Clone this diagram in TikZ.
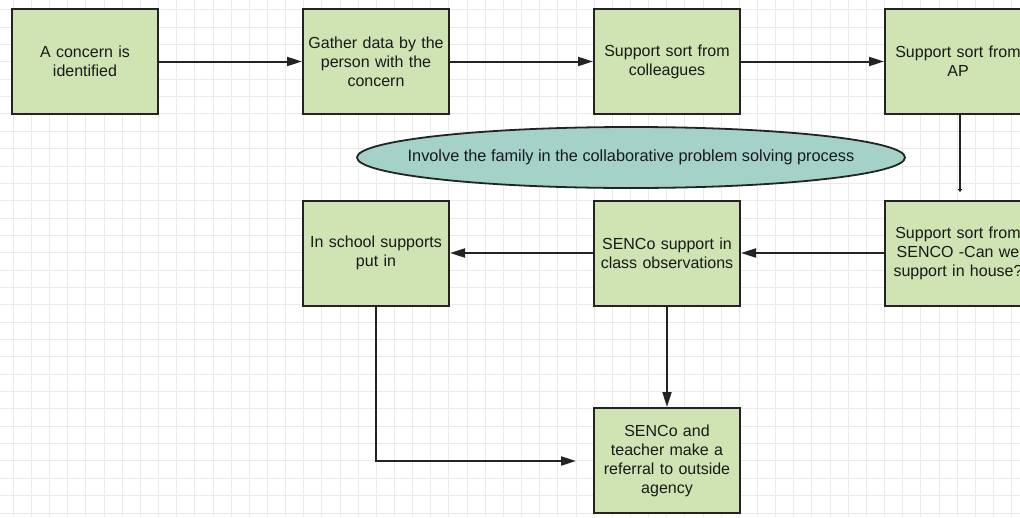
\documentclass[tikz,border=0pt]{standalone}
\usepackage{fontspec}
\setmainfont{Liberation Sans}
\usetikzlibrary{arrows.meta,shapes.geometric}
\definecolor{boxgreen}{RGB}{207,228,178}
\definecolor{ellteal}{RGB}{164,210,200}
\definecolor{edge}{RGB}{35,35,35}
\definecolor{gridc}{RGB}{234,234,234}
\definecolor{txt}{RGB}{25,25,25}
\tikzset{
  stepbox/.style={draw=edge, line width=2pt, fill=boxgreen, minimum width=146pt, minimum height=105pt, inner sep=0pt, text width=140pt, align=center, text=txt, font=\fontsize{16}{19}\selectfont},
  famell/.style={ellipse, draw=edge, line width=1.8pt, fill=ellteal, minimum width=548pt, minimum height=61pt, inner sep=0pt},
  famtext/.style={inner sep=0pt, text=txt, font=\fontsize{16.3}{19}\selectfont},
  conn/.style={draw=edge, line width=2pt, -{Triangle[length=15pt,width=9pt]}},
  smallconn/.style={draw=edge, line width=2.6pt, -{Triangle[length=3pt,width=4.5pt]}}
}
\begin{document}
\begin{tikzpicture}[x=1pt,y=-1pt]
\useasboundingbox (0,0) rectangle (1020,517);
\clip (0,0) rectangle (1020,517);
\fill[white] (0,0) rectangle (1020,517);
% grid
\foreach \i in {0,...,56} {
  \draw[gridc, line width=0.9pt] ({13.3+18.15*\i},0) -- ({13.3+18.15*\i},517);
}
\foreach \j in {0,...,29} {
  \draw[gridc, line width=0.9pt] (0,{9.8+17.35*\j}) -- (1020,{9.8+17.35*\j});
}
% nodes
\node[stepbox] (b1) at (85,61.5) {A concern is\\identified};
\node[stepbox] (b2) at (376,61.5) {Gather data by the\\person with the\\concern};
\node[stepbox] (b3) at (667,61.5) {Support sort from\\colleagues};
\node[stepbox] (b4) at (958,61.5) {Support sort from\\AP};
\node[famell] (fam) at (631,157.5) {};
\node[famtext] (famlabel) at (fam.center) {Involve the family in the collaborative problem solving process};
\node[stepbox] (b5) at (958,253) {Support sort from\\SENCO -Can we\\support in house?};
\node[stepbox] (b6) at (667,253) {SENCo support in\\class observations};
\node[stepbox] (b7) at (376,253) {In school supports\\put in};
\node[stepbox] (b8) at (667,460.5) {SENCo and\\teacher make a\\referral to outside\\agency};
\coordinate (apend) at (960,192);
\coordinate (refend) at (576,461);
% connectors
\draw[conn] (b1.east) -- (b2.west);
\draw[conn] (b2.east) -- (b3.west);
\draw[conn] (b3.east) -- (b4.west);
\draw[smallconn] (b4.south -| apend) -- (apend);
\draw[conn] (b5.west) -- (b6.east);
\draw[conn] (b6.west) -- (b7.east);
\draw[conn] (b6.south) -- (b8.north);
\draw[conn] (b7.south) |- (refend);
\end{tikzpicture}
\end{document}
